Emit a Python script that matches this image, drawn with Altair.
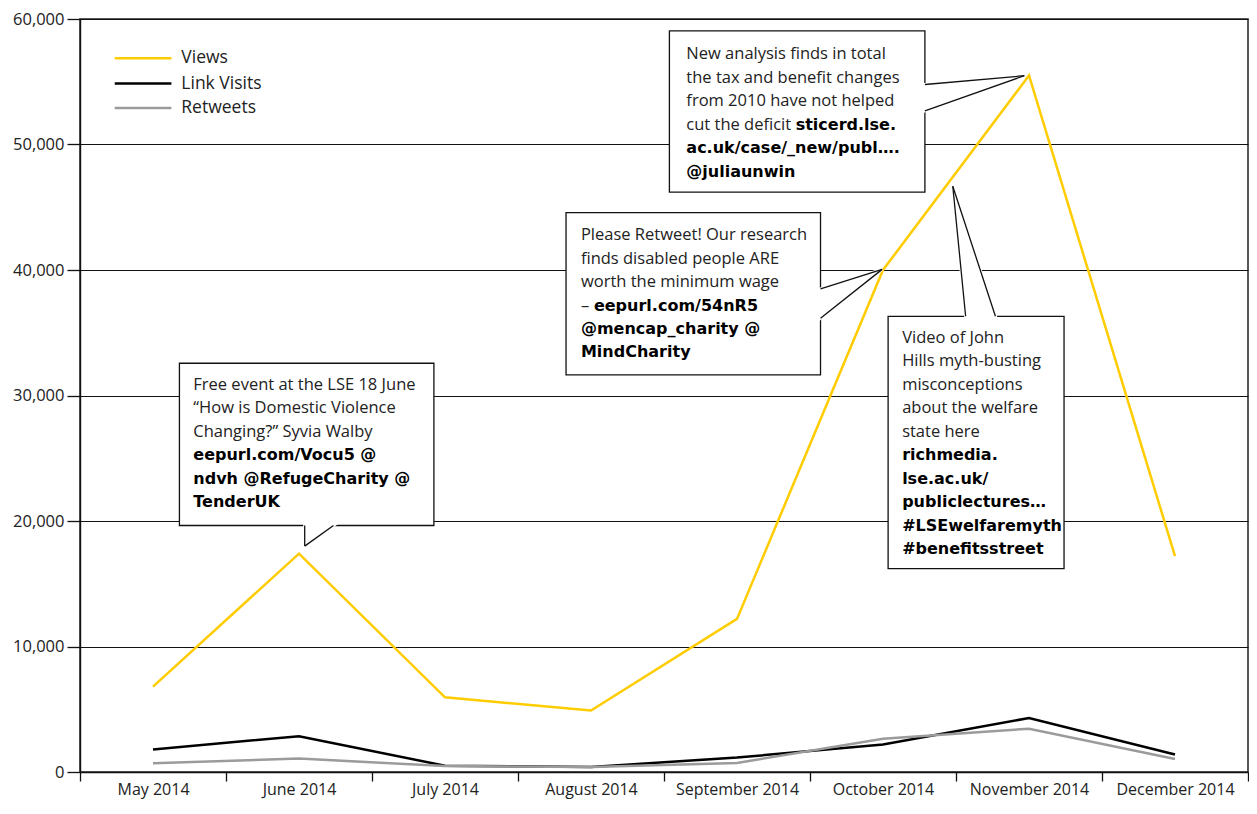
import altair as alt
import pandas as pd

# ---------------- data ----------------
months = ["May 2014", "June 2014", "July 2014", "August 2014",
          "September 2014", "October 2014", "November 2014", "December 2014"]
views = [6800, 17400, 5950, 4900, 12200, 40000, 55500, 17200]
link_visits = [1800, 2850, 500, 400, 1150, 2200, 4300, 1400]
retweets = [700, 1070, 470, 400, 720, 2650, 3450, 1040]

series_names = ["Views", "Link Visits", "Retweets"]
series_colors = ["#FFCC00", "#000000", "#9B9B9B"]
y_ticks = [0, 10000, 20000, 30000, 40000, 50000, 60000]

FONT = "Open Sans"
BOLD_FONT = "DejaVu Sans"
TXT = "#222222"

rows = []
for name, vals in zip(series_names, [views, link_visits, retweets]):
    for m, v in zip(months, vals):
        rows.append({"month": m, "value": v, "series": name})
df = pd.DataFrame(rows)

# ---------------- annotations (data units: x = month-band index, y = value) ----------------
LINE_STEP = 1870
callout_boxes = pd.DataFrame([
    {"u1": 0.681, "u2": 2.424, "v1": 32570, "v2": 19640},
    {"u1": 3.329, "u2": 5.072, "v1": 44570, "v2": 31640},
    {"u1": 4.037, "u2": 5.787, "v1": 59060, "v2": 46210},
    {"u1": 5.535, "u2": 6.740, "v1": 36310, "v2": 16210},
])

ptr_v = pd.DataFrame([
    {"pid": 1, "u": 1.539, "v": 19640, "v2": 18000},
    {"pid": 1, "u": 1.736, "v": 19640, "v2": 19640},
    {"pid": 2, "u": 5.072, "v": 38490, "v2": 36160},
    {"pid": 2, "u": 5.494, "v": 40050, "v2": 40050},
    {"pid": 3, "u": 5.787, "v": 54780, "v2": 52680},
    {"pid": 3, "u": 6.468, "v": 55480, "v2": 55480},
])
ptr_h = pd.DataFrame([
    {"pid": 4, "v": 46670, "u": 5.978, "u2": 5.978},
    {"pid": 4, "v": 36310, "u": 6.066, "u2": 6.270},
])
ptr_edges = pd.DataFrame([
    {"u": 1.539, "v": 19640, "u2": 1.539, "v2": 18000},
    {"u": 1.539, "v": 18000, "u2": 1.736, "v2": 19640},
    {"u": 5.072, "v": 38490, "u2": 5.494, "v2": 40050},
    {"u": 5.494, "v": 40050, "u2": 5.072, "v2": 36160},
    {"u": 5.787, "v": 54780, "u2": 6.468, "v2": 55480},
    {"u": 6.468, "v": 55480, "u2": 5.787, "v2": 52680},
    {"u": 6.066, "v": 36310, "u2": 5.978, "v2": 46670},
    {"u": 5.978, "v": 46670, "u2": 6.270, "v2": 36310},
])

callout_texts = [
    (0.776, 30857, [
        ("Free event at the LSE 18 June", "n", 0),
        ("\u201cHow is Domestic Violence", "n", 0),
        ("Changing?\u201d Syvia Walby", "n", 0),
        ("eepurl.com/Vocu5 @", "b", 0),
        ("ndvh @RefugeCharity @", "b", 0),
        ("TenderUK", "b", 0),
    ]),
    (3.431, 42779, [
        ("Please Retweet! Our research", "n", 0),
        ("finds disabled people ARE", "n", 0),
        ("worth the minimum wage", "n", 0),
        ("\u2013 ", "n", 0),
        ("eepurl.com/54nR5", "b", 0.089),
        ("@mencap_charity @", "b", 0),
        ("MindCharity", "b", 0),
    ]),
    (4.153, 57195, [
        ("New analysis finds in total", "n", 0),
        ("the tax and benefit changes", "n", 0),
        ("from 2010 have not helped", "n", 0),
        ("cut the deficit ", "n", 0),
        ("sticerd.lse.", "b", 0.749),
        ("ac.uk/case/_new/publ\u2026.", "b", 0),
        ("@juliaunwin", "b", 0),
    ]),
    (5.631, 34597, [
        ("Video of John", "n", 0),
        ("Hills myth-busting", "n", 0),
        ("misconceptions", "n", 0),
        ("about the welfare", "n", 0),
        ("state here", "n", 0),
        ("richmedia.", "b", 0),
        ("lse.ac.uk/", "b", 0),
        ("publiclectures\u2026", "b", 0),
        ("#LSEwelfaremyth", "b", 0),
        ("#benefitsstreet", "b", 0),
    ]),
]
trows = []
for u0, v0, lines in callout_texts:
    li = 0
    for text, w, du in lines:
        if du > 0:
            li -= 1  # continues the previous line
        trows.append({"u": u0 + du, "v": v0 - li * LINE_STEP, "text": text, "w": w})
        li += 1
tdf = pd.DataFrame(trows)

legend_df = pd.DataFrame([
    {"series": "Views", "u1": 0.238, "u2": 0.626, "ut": 0.694, "v": 56880},
    {"series": "Link Visits", "u1": 0.238, "u2": 0.626, "ut": 0.694, "v": 54860},
    {"series": "Retweets", "u1": 0.238, "u2": 0.626, "ut": 0.694, "v": 52910},
])

# ---------------- encodings ----------------
ydom = alt.Scale(domain=[0, 60000], nice=False, zero=True)


def ux(f):
    return alt.X(f, type="quantitative",
                 scale=alt.Scale(domain=[0, 8], nice=False, zero=False), axis=None)


def vy(f):
    return alt.Y(f, type="quantitative", scale=ydom, title=None)


color = alt.Color("series:N", scale=alt.Scale(domain=series_names, range=series_colors),
                  legend=None)

lines = alt.Chart(df).mark_line(strokeWidth=2.5, strokeJoin="miter").encode(
    x=alt.X("month:N", sort=months,
            scale=alt.Scale(type="band", paddingInner=0, paddingOuter=0),
            axis=alt.Axis(title=None, labelAngle=0, tickBand="extent", ticks=True,
                          tickSize=9, grid=False, labelPadding=0)),
    y=alt.Y("value:Q", scale=ydom,
            axis=alt.Axis(title=None, values=y_ticks, format=",d", grid=True,
                          tickSize=13, labelPadding=3)),
    color=color,
    detail="series:N",
)

boxes = alt.Chart(callout_boxes).mark_rect(fill="white", stroke="#111", strokeWidth=1.3).encode(
    x=ux("u1"), x2=alt.X2("u2"), y=vy("v1"), y2=alt.Y2("v2"))

areas_v = alt.Chart(ptr_v).mark_area(fill="white", stroke="white", strokeWidth=3,
                                     orient="vertical").encode(
    x=ux("u"), y=vy("v"), y2=alt.Y2("v2"), detail="pid:N")

areas_h = alt.Chart(ptr_h).mark_area(fill="white", stroke="white", strokeWidth=3,
                                     orient="horizontal").encode(
    y=vy("v"), x=ux("u"), x2=alt.X2("u2"), detail="pid:N")

edges = alt.Chart(ptr_edges).mark_rule(color="#111", strokeWidth=1.3).encode(
    x=ux("u"), x2=alt.X2("u2"), y=vy("v"), y2=alt.Y2("v2"))

txt_n = alt.Chart(tdf).transform_filter("datum.w == 'n'").mark_text(
    align="left", baseline="middle", font=FONT, fontSize=16.5, fontWeight="normal",
    color=TXT).encode(
    x=ux("u"), y=vy("v"), text="text:N")

txt_b = alt.Chart(tdf).transform_filter("datum.w == 'b'").mark_text(
    align="left", baseline="middle", font=BOLD_FONT, fontSize=16, fontWeight="bold",
    color="#000").encode(
    x=ux("u"), y=vy("v"), text="text:N")

leg_lines = alt.Chart(legend_df).mark_rule(strokeWidth=2.5).encode(
    x=ux("u1"), x2=alt.X2("u2"), y=vy("v"), color=color)

leg_text = alt.Chart(legend_df).mark_text(
    align="left", baseline="middle", font=FONT, fontSize=17.5, fontWeight="normal",
    color=TXT).encode(
    x=ux("ut"), y=vy("v"), text="series:N")

chart = alt.layer(
    lines, boxes, areas_v, areas_h, edges, txt_n, txt_b, leg_lines, leg_text
).resolve_scale(x="independent").properties(
    width=1168, height=753,
    autosize=alt.AutoSizeParams(type="none"),
    padding={"left": 72, "top": 11, "right": 1, "bottom": 28},
    background="white",
).configure_view(
    stroke="#222", strokeWidth=1.5
).configure_axis(
    labelFont=FONT, labelFontSize=16, labelColor=TXT,
    tickColor="#111", tickWidth=1.3, domainColor="#111", domainWidth=1.4,
).configure_axisY(
    gridColor="#111", gridWidth=1.2, labelFontSize=16.5,
)

chart.save("out.html", embed_options={"renderer": "svg", "actions": False})
